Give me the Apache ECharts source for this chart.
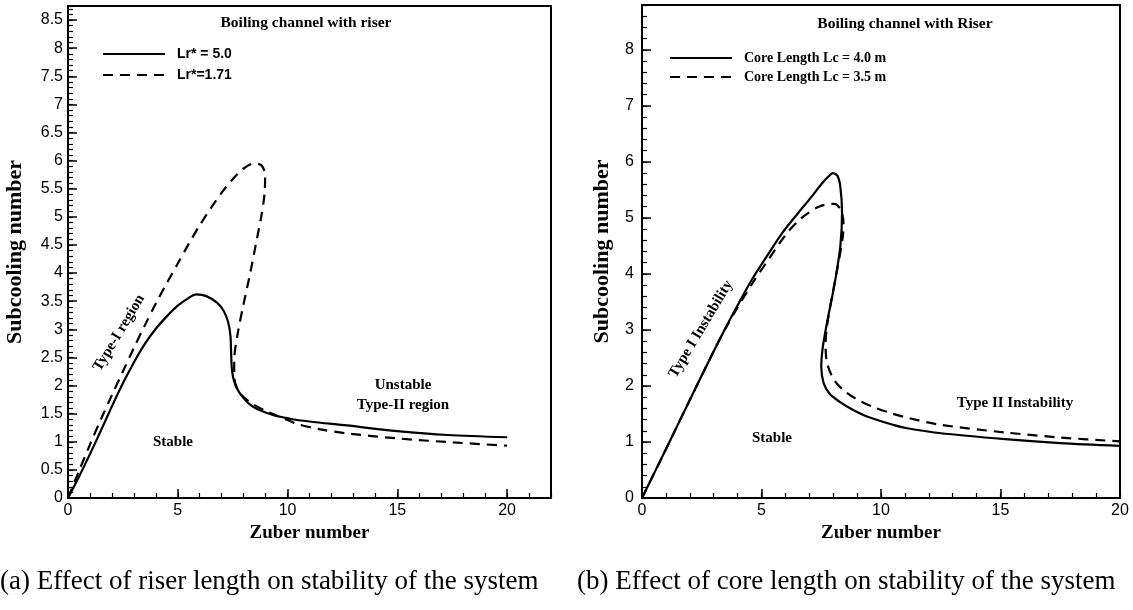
<!DOCTYPE html>
<html><head><meta charset="utf-8">
<script src="https://cdn.jsdelivr.net/npm/echarts@6/dist/echarts.min.js"></script>
<style>html,body{margin:0;padding:0;background:#fff}#c{width:1133px;height:610px}</style>
</head><body><div id="c"></div><script>
// ---- data ----
const riserTitle = 'Boiling channel with riser';
const coreTitle = 'Boiling channel with Riser';
const riserNames = ['Lr* = 5.0', 'Lr*=1.71'];
const coreNames = ['Core Length Lc = 4.0 m', 'Core Length Lc = 3.5 m'];
const xName = 'Zuber number';
const yName = 'Subcooling number';
const captions = ['(a) Effect of riser length on stability of the system', '(b) Effect of core length on stability of the system'];
const riserXTicks = [0, 5, 10, 15, 20];
const coreXTicks = [0, 5, 10, 15, 20];

const riserLong = [[0,0],[0.5,0.38],[1.0,0.78],[1.5,1.2],[2.0,1.63],[2.5,2.04],[3.0,2.41],[3.5,2.74],[4.0,3.01],[4.5,3.23],[5.0,3.42],[5.5,3.56],[5.85,3.62],[6.3,3.59],[6.8,3.47],[7.1,3.32],[7.3,3.12],[7.4,2.88],[7.43,2.58],[7.46,2.32],[7.55,2.1],[7.8,1.88],[8.4,1.63],[9.3,1.48],[10.1,1.41],[11,1.36],[12.7,1.29],[15,1.19],[17.3,1.12],[20,1.08]];
const riserShort = [[0,0],[0.5,0.48],[1.0,0.95],[1.5,1.4],[2.0,1.83],[2.5,2.25],[3.0,2.67],[3.5,3.07],[4.0,3.46],[4.5,3.82],[5.0,4.17],[5.5,4.52],[6.0,4.85],[6.5,5.15],[7.0,5.43],[7.5,5.67],[8.0,5.86],[8.45,5.95],[8.8,5.92],[8.98,5.75],[8.95,5.4],[8.8,5.0],[8.6,4.6],[8.3,4.0],[7.97,3.4],[7.72,2.9],[7.57,2.45],[7.58,2.12],[7.8,1.88],[8.3,1.7],[9.0,1.55],[9.8,1.42],[10.4,1.32],[11.5,1.22],[12.7,1.15],[15,1.06],[17.5,0.99],[20,0.93]];
const coreLong = [[0,0],[1,0.87],[2,1.75],[3,2.62],[3.5,3.04],[4,3.44],[4.6,3.9],[5.2,4.3],[5.85,4.72],[6.5,5.07],[7.1,5.38],[7.5,5.6],[7.8,5.74],[7.98,5.8],[8.18,5.75],[8.3,5.55],[8.37,5.1],[8.3,4.5],[8.05,3.8],[7.75,3.15],[7.55,2.65],[7.5,2.35],[7.6,2.05],[7.85,1.86],[8.26,1.72],[8.8,1.58],[9.44,1.45],[10.55,1.3],[11.04,1.25],[12.43,1.16],[15.2,1.05],[17.5,0.98],[20,0.93]];
const coreShort = [[0,0],[1,0.87],[2,1.75],[3,2.62],[3.5,3.03],[4,3.4],[4.6,3.82],[5.2,4.2],[6.05,4.72],[6.6,4.97],[7.0,5.1],[7.35,5.19],[7.7,5.24],[8.05,5.25],[8.32,5.14],[8.43,4.9],[8.4,4.66],[8.19,4.13],[7.92,3.53],[7.72,3.0],[7.68,2.72],[7.75,2.4],[8.05,2.1],[8.5,1.9],[9.0,1.76],[9.65,1.63],[10.3,1.53],[11.04,1.44],[12.43,1.31],[15.2,1.17],[17.5,1.08],[20,1.01]];

// ---- chart ----
const chart = echarts.init(document.getElementById('c'), null, {renderer: 'canvas'});
const SANS = '"Liberation Sans", Arial, sans-serif';
const SERIF = '"Liberation Serif", "Times New Roman", serif';
const DASH = [10, 7];

function majorX(grid, max, ticks) {
  return {
    gridIndex: grid, type: 'value', min: 0, max: max, interval: 5, position: 'bottom',
    axisLine: {show: true, onZero: false, lineStyle: {color: '#000', width: 2}},
    axisTick: {show: true, inside: true, length: 9, lineStyle: {color: '#000', width: 1.5}},
    axisLabel: {show: true, color: '#000', fontFamily: SANS, fontSize: 16, margin: 5,
      formatter: v => ticks.indexOf(v) >= 0 ? String(v) : ''},
    splitLine: {show: false},
    name: xName, nameLocation: 'middle', nameGap: 14,
    nameTextStyle: {color: '#000', fontFamily: SERIF, fontWeight: 'bold', fontSize: 19}
  };
}
function minorX(grid, max) {
  return {
    gridIndex: grid, type: 'value', min: 0, max: max, interval: 1, position: 'bottom',
    axisLine: {show: false}, axisLabel: {show: false}, splitLine: {show: false},
    axisTick: {show: true, inside: true, length: 5, lineStyle: {color: '#000', width: 1.2}}
  };
}
function majorY(grid, max, interval, nameGap, margin) {
  return {
    gridIndex: grid, type: 'value', min: 0, max: max, interval: interval, position: 'left',
    axisLine: {show: true, onZero: false, lineStyle: {color: '#000', width: 2}},
    axisTick: {show: true, inside: true, length: 9, lineStyle: {color: '#000', width: 1.5}},
    axisLabel: {show: true, color: '#000', fontFamily: SANS, fontSize: 16, margin: margin,
      formatter: v => (Math.abs(v / interval - Math.round(v / interval)) < 1e-6) ? String(v) : ''},
    splitLine: {show: false},
    name: yName, nameLocation: 'middle', nameGap: nameGap, nameRotate: 90,
    nameTextStyle: {color: '#000', fontFamily: SERIF, fontWeight: 'bold', fontSize: 22}
  };
}
function minorY(grid, max, interval) {
  return {
    gridIndex: grid, type: 'value', min: 0, max: max, interval: interval, position: 'left',
    axisLine: {show: false}, axisLabel: {show: false}, splitLine: {show: false},
    axisTick: {show: true, inside: true, length: 5, lineStyle: {color: '#000', width: 1.2}}
  };
}
function line(name, data, xi, yi, dashed) {
  return {
    name: name, type: 'line', data: data, xAxisIndex: xi, yAxisIndex: yi,
    symbol: 'none', smooth: 0.3, silent: true,
    lineStyle: {color: '#000', width: 2.2, type: dashed ? DASH : 'solid'}
  };
}
function txt(x, y, text, font, rot, align) {
  return {type: 'text', x: x, y: y, rotation: rot || 0, silent: true,
    style: {text: text, font: font, fill: '#000', align: align || 'center', verticalAlign: 'middle'}};
}
function legLine(x1, x2, y, dashed) {
  return {type: 'line', silent: true, shape: {x1: x1, y1: y, x2: x2, y2: y},
    style: {stroke: '#000', lineWidth: 2.2, lineDash: dashed ? DASH : null}};
}

const boldSerif14 = 'bold 14px ' + SERIF;
const boldSerif15 = 'bold 15px ' + SERIF;
const titleFont = 'bold 15.5px ' + SERIF;
const rot = 59 * Math.PI / 180;

chart.setOption({
  animation: false,
  backgroundColor: '#fff',
  grid: [
    {left: 68, top: 6, width: 483, height: 492, show: true, borderColor: '#000', borderWidth: 2, backgroundColor: 'transparent'},
    {left: 642, top: 5, width: 478, height: 493, show: true, borderColor: '#000', borderWidth: 2, backgroundColor: 'transparent'}
  ],
  xAxis: [majorX(0, 22, riserXTicks), minorX(0, 22), majorX(1, 20, coreXTicks), minorX(1, 20)],
  yAxis: [majorY(0, 8.75, 0.5, 42, 5), minorY(0, 8.75, 0.1), majorY(1, 8.8, 1, 29, 8), minorY(1, 8.8, 0.2)],
  series: [
    line(riserNames[0], riserLong, 0, 0, false),
    line(riserNames[1], riserShort, 0, 0, true),
    line(coreNames[0], coreLong, 2, 2, false),
    line(coreNames[1], coreShort, 2, 2, true)
  ],
  graphic: [
    txt(306, 23, riserTitle, titleFont),
    txt(905, 24, coreTitle, titleFont),
    legLine(103, 165, 54, false), legLine(103, 165, 75, true),
    txt(177, 54, riserNames[0], 'bold 14px ' + SANS, 0, 'left'),
    txt(177, 75, riserNames[1], 'bold 14px ' + SANS, 0, 'left'),
    legLine(670, 732, 58, false), legLine(670, 732, 77, true),
    txt(744, 58, coreNames[0], boldSerif14, 0, 'left'),
    txt(744, 77, coreNames[1], boldSerif14, 0, 'left'),
    txt(119, 333, 'Type-I region', boldSerif15, rot),
    txt(173, 442, 'Stable', boldSerif15),
    txt(403, 385, 'Unstable', boldSerif15),
    txt(403, 405, 'Type-II region', boldSerif15),
    txt(701, 329, 'Type I Instability', boldSerif15, rot),
    txt(772, 438, 'Stable', boldSerif15),
    txt(1015, 403, 'Type II Instability', boldSerif15),
    txt(0, 582, captions[0], '27px ' + SERIF, 0, 'left'),
    txt(577, 582, captions[1], '27px ' + SERIF, 0, 'left')
  ]
});
</script></body></html>
